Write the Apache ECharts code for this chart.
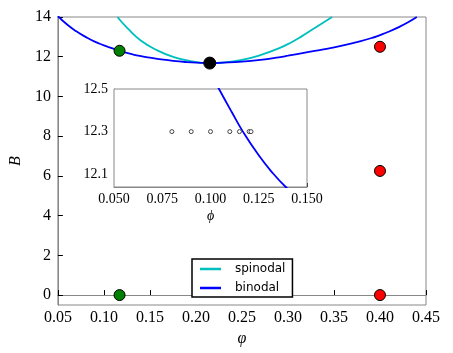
<!DOCTYPE html>
<html>
<head>
<meta charset="utf-8">
<script src="https://cdn.jsdelivr.net/npm/echarts@6/dist/echarts.min.js"></script>
<style>html,body{margin:0;padding:0;background:#fff;}#c{width:453px;height:353px;}</style>
</head>
<body>
<div id="c"></div>
<script>
// ---- data ----
var binodalPhi = [0.05, 0.06, 0.07, 0.08, 0.09, 0.10, 0.1044, 0.111, 0.1168, 0.1249, 0.1318, 0.139, 0.15, 0.16, 0.175, 0.19, 0.205, 0.215, 0.23, 0.25, 0.27, 0.29, 0.30, 0.32, 0.34, 0.36, 0.375, 0.39, 0.40, 0.41, 0.42, 0.43, 0.44];
var binodalB   = [14.05, 13.62, 13.28, 13.0, 12.76, 12.575, 12.50, 12.392, 12.30, 12.19, 12.11, 12.04, 11.95, 11.88, 11.79, 11.73, 11.695, 11.68, 11.70, 11.75, 11.84, 11.97, 12.05, 12.22, 12.38, 12.57, 12.74, 12.93, 13.09, 13.27, 13.48, 13.72, 14.0];
var spinodalPhi = [0.1147, 0.1255, 0.14, 0.158, 0.176, 0.194, 0.215, 0.23, 0.25, 0.27, 0.29, 0.3034, 0.314, 0.33, 0.348];
var spinodalB   = [14.0, 13.44, 12.82, 12.32, 11.98, 11.78, 11.68, 11.71, 11.84, 12.08, 12.42, 12.72, 13.0, 13.47, 14.0];
var greenPhi = [0.117, 0.117];
var greenB   = [12.3, 0];
var redPhi = [0.40, 0.40, 0.40];
var redB   = [12.5, 6.25, 0];
var blackPhi = [0.215];
var blackB   = [11.68];
var insetPhi = [0.08, 0.09, 0.10, 0.11, 0.115, 0.12, 0.121];
var insetB   = [12.3, 12.3, 12.3, 12.3, 12.3, 12.3, 12.3];
var mainYTicks = [0, 2, 4, 6, 8, 10, 12, 14];
var insetYTicks = [12.1, 12.3, 12.5];

function zip(a, b) { return a.map(function (v, i) { return [v, b[i]]; }); }

var serif = 'Liberation Serif';
var chart = echarts.init(document.getElementById('c'), null, {renderer: 'canvas'});
var spine = {show: true, lineStyle: {color: '#888', width: 1}};
chart.setOption({
  animation: false,
  backgroundColor: '#fff',
  grid: [
    {left: 55, right: 27, top: 17, bottom: 48, show: true, borderColor: '#888', borderWidth: 1, backgroundColor: 'transparent'},
    {left: 114, top: 89, width: 193, height: 98, show: true, borderColor: '#888', borderWidth: 1, backgroundColor: '#fff', z: 5}
  ],
  legend: {
    left: 192, top: 259, orient: 'vertical',
    padding: [4, 7, 3, 8], itemGap: 7, itemWidth: 21, itemHeight: 2.5,
    borderColor: '#000', borderWidth: 1.5, backgroundColor: '#fff',
    textStyle: {fontFamily: 'DejaVu Sans', fontSize: 12, lineHeight: 12, color: '#000', padding: [0, 0, 0, 9]},
    data: [{name: 'spinodal', icon: 'rect'}, {name: 'binodal', icon: 'rect'}], z: 10
  },
  xAxis: [
    {gridIndex: 0, type: 'value', min: 0.05, max: 0.45, interval: 0.05,
     axisLine: spine, splitLine: {show: false},
     axisTick: {inside: true, length: 5, lineStyle: {color: '#000'}},
     axisLabel: {fontFamily: serif, fontSize: 16, color: '#000', margin: 5, formatter: function (v) { return v.toFixed(2); }},
     name: 'φ', nameLocation: 'middle', nameGap: 23,
     nameTextStyle: {fontFamily: serif, fontStyle: 'italic', fontSize: 16, color: '#000'}},
    {gridIndex: 1, type: 'value', min: 0.05, max: 0.15, interval: 0.025,
     axisLine: spine, splitLine: {show: false},
     axisTick: {inside: true, length: 4, lineStyle: {color: '#000'}},
     axisLabel: {fontFamily: serif, fontSize: 14, color: '#000', margin: 5, formatter: function (v) { return v.toFixed(3); }},
     name: 'ϕ', nameLocation: 'middle', nameGap: 22,
     nameTextStyle: {fontFamily: serif, fontStyle: 'italic', fontSize: 14, color: '#000'}}
  ],
  yAxis: [
    {gridIndex: 0, type: 'value', min: -0.5, max: 14,
     axisLine: spine, splitLine: {show: false},
     axisTick: {inside: true, length: 5, lineStyle: {color: '#000'}, customValues: mainYTicks},
     axisLabel: {fontFamily: serif, fontSize: 16, color: '#000', margin: 7, customValues: mainYTicks},
     name: 'B', nameLocation: 'middle', nameGap: 30, nameRotate: 90,
     nameTextStyle: {fontFamily: serif, fontStyle: 'italic', fontSize: 16, color: '#000'}},
    {gridIndex: 1, type: 'value', min: 12.04, max: 12.5,
     axisLine: spine, splitLine: {show: false},
     axisTick: {inside: true, length: 4, lineStyle: {color: '#000'}, customValues: insetYTicks},
     axisLabel: {fontFamily: serif, fontSize: 14, color: '#000', margin: 6, customValues: insetYTicks,
                 formatter: function (v) { return v.toFixed(1); }}}
  ],
  series: [
    {name: 'spinodal', type: 'line', xAxisIndex: 0, yAxisIndex: 0, data: zip(spinodalPhi, spinodalB),
     smooth: 0.5, symbol: 'none', clip: true, lineStyle: {color: '#00BFBF', width: 1.8}, itemStyle: {color: '#00BFBF'}, z: 2},
    {name: 'binodal', type: 'line', xAxisIndex: 0, yAxisIndex: 0, data: zip(binodalPhi, binodalB),
     smooth: 0.5, symbol: 'none', clip: true, lineStyle: {color: '#0000FF', width: 1.8}, itemStyle: {color: '#0000FF'}, z: 3},
    {name: 'green', type: 'scatter', xAxisIndex: 0, yAxisIndex: 0, data: zip(greenPhi, greenB), symbolSize: 11,
     itemStyle: {color: '#008000', borderColor: '#000', borderWidth: 1, opacity: 1}, z: 4},
    {name: 'red', type: 'scatter', xAxisIndex: 0, yAxisIndex: 0, data: zip(redPhi, redB), symbolSize: 11,
     itemStyle: {color: '#FF0000', borderColor: '#000', borderWidth: 1, opacity: 1}, z: 4},
    {name: 'black', type: 'scatter', xAxisIndex: 0, yAxisIndex: 0, data: zip(blackPhi, blackB), symbolSize: 12,
     itemStyle: {color: '#000', borderColor: '#000', borderWidth: 1, opacity: 1}, z: 4},
    {name: 'binodal-inset', type: 'line', xAxisIndex: 1, yAxisIndex: 1, data: zip(binodalPhi, binodalB),
     smooth: 0.5, symbol: 'none', clip: true, lineStyle: {color: '#0000FF', width: 1.8}, z: 6},
    {name: 'inset-points', type: 'scatter', xAxisIndex: 1, yAxisIndex: 1, data: zip(insetPhi, insetB), symbolSize: 4,
     itemStyle: {color: '#fff', borderColor: '#444', borderWidth: 1, opacity: 1}, z: 7}
  ]
});
</script>
</body>
</html>
